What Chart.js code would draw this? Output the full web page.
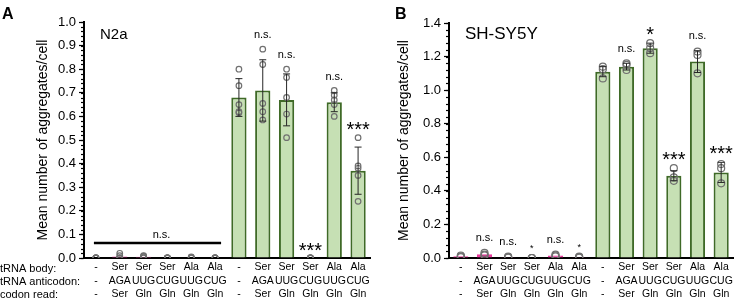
<!DOCTYPE html>
<html>
<head>
<meta charset="utf-8">
<script src="https://cdn.jsdelivr.net/npm/chart.js@4/dist/chart.umd.min.js"></script>
<style>
  body { margin: 0; background: #fff; }
  #wrap { position: relative; width: 748px; height: 302px; }
  #wrap canvas { position: absolute; top: 0; }
</style>
</head>
<body>
<div id="wrap">
  <canvas id="chartA" width="374" height="302" style="left:0"></canvas>
  <canvas id="chartB" width="374" height="302" style="left:374px"></canvas>
</div>
<script>
// Категории (таблица под осью)
const rowNames = ['tRNA body:', 'tRNA anticodon:', 'codon read:'];
const trnaBody = ['-', 'Ser', 'Ser', 'Ser', 'Ala', 'Ala', '-', 'Ser', 'Ser', 'Ser', 'Ala', 'Ala'];
const trnaAnticodon = ['-', 'AGA', 'UUG', 'CUG', 'UUG', 'CUG', '-', 'AGA', 'UUG', 'CUG', 'UUG', 'CUG'];
const codonRead = ['-', 'Ser', 'Gln', 'Gln', 'Gln', 'Gln', '-', 'Ser', 'Gln', 'Gln', 'Gln', 'Gln'];

// N2a
const n2aMeans = [0, 0.006, 0.005, 0, 0.002, 0, 0.68, 0.71, 0.67, 0, 0.66, 0.37];
const n2aSD = [0, 0, 0, 0, 0, 0, 0.08, 0.13, 0.11, 0, 0.04, 0.10];
const n2aPoints = [
    [0, 0, 0, 0, 0],
    [0.02, 0.01, 0, 0, 0],
    [0.01, 0.008, 0.005, 0.002, 0],
    [0, 0, 0, 0, 0],
    [0.005, 0.003, 0.002, 0, 0],
    [0, 0, 0, 0, 0],
    [0.80, 0.73, 0.65, 0.62, 0.615],
    [0.885, 0.82, 0.655, 0.62, 0.585],
    [0.80, 0.765, 0.68, 0.61, 0.51],
    [0, 0, 0, 0, 0],
    [0.71, 0.69, 0.67, 0.65, 0.60],
    [0.51, 0.39, 0.38, 0.35, 0.24]
];
const n2aSig = ['', '', '', '', '', '', '', 'n.s.', 'n.s.', '***', 'n.s.', '***'];
const n2aTicks = [0, 0.1, 0.2, 0.3, 0.4, 0.5, 0.6, 0.7, 0.8, 0.9, 1.0];

// SH-SY5Y
const shMeans = [0.01, 0.022, 0.005, 0, 0.015, 0.005, 1.11, 1.14, 1.25, 0.49, 1.17, 0.51];
const shSD = [0, 0, 0, 0, 0, 0, 0.03, 0.02, 0.03, 0.03, 0.065, 0.06];
const shPoints = [
    [0.015, 0.01, 0.005],
    [0.03, 0.02, 0.015],
    [0.008, 0.005, 0.002],
    [0, 0, 0],
    [0.02, 0.015, 0.01],
    [0.008, 0.005, 0.002],
    [1.14, 1.125, 1.07],
    [1.16, 1.15, 1.12],
    [1.28, 1.25, 1.22],
    [0.535, 0.48, 0.46],
    [1.23, 1.21, 1.10],
    [0.56, 0.535, 0.445]
];
const shSig = ['', 'n.s.', 'n.s.', '*', 'n.s.', '*', '', 'n.s.', '*', '***', 'n.s.', '***'];
const shTicks = [0, 0.2, 0.4, 0.6, 0.8, 1.0, 1.2, 1.4];

const FONT = "'Liberation Sans', Arial, Helvetica, sans-serif";
Chart.defaults.font.family = FONT;
Chart.defaults.color = '#000';

const labels = trnaBody.map((b, i) => [b, trnaAnticodon[i], codonRead[i]]);

function makeChart(id, cfg) {
    const { means, sd, points, sig, ticks, minorStep, letter, title, titleFont,
            pad, yWidth, radius, rowLabels, groupLine } = cfg;
    const yMax = ticks[ticks.length - 1];
    const nPts = points[0].length;

    const pointSets = [];
    for (let k = 0; k < nPts; k++) {
        pointSets.push({
            type: 'line',
            data: points.map(p => p[k]),
            showLine: false,
            pointRadius: radius,
            pointHoverRadius: radius,
            pointBorderWidth: 1.2,
            pointBorderColor: '#707070',
            pointBackgroundColor: 'rgba(0,0,0,0)',
            order: 0
        });
    }

    const extras = {
        id: 'extras' + id,
        afterDatasetsDraw(chart) {
            const { ctx, scales: { x, y }, chartArea } = chart;
            ctx.save();
            // error bars
            ctx.strokeStyle = '#262626';
            ctx.lineWidth = 1;
            means.forEach((m, i) => {
                if (!sd[i]) return;
                const cx = x.getPixelForValue(i);
                const y1 = y.getPixelForValue(m + sd[i]);
                const y2 = y.getPixelForValue(m - sd[i]);
                ctx.beginPath();
                ctx.moveTo(cx, y1); ctx.lineTo(cx, y2);
                ctx.moveTo(cx - 3.5, y1); ctx.lineTo(cx + 3.5, y1);
                ctx.moveTo(cx - 3.5, y2); ctx.lineTo(cx + 3.5, y2);
                ctx.stroke();
            });
            // significance labels
            ctx.fillStyle = '#000';
            ctx.textAlign = 'center';
            ctx.textBaseline = 'alphabetic';
            sig.forEach((txt, i) => {
                if (!txt) return;
                const top = y.getPixelForValue(Math.max(...points[i], means[i] + sd[i])) - radius;
                const cx = x.getPixelForValue(i);
                if (txt === '*' && means[i] < 0.05) {
                    ctx.font = '9px ' + FONT;
                    ctx.fillText(txt, cx, top - 3.5);
                } else if (txt.includes('*')) {
                    ctx.font = '20px ' + FONT;
                    ctx.fillText(txt, cx, top + 1.5);
                } else {
                    ctx.font = '11px ' + FONT;
                    ctx.fillText(txt, cx, top - 8);
                }
            });
            // n.s. line over the first group
            if (groupLine) {
                const gy = y.getPixelForValue(groupLine.value);
                const gx1 = x.getPixelForValue(groupLine.from) - 2;
                const gx2 = x.getPixelForValue(groupLine.to) + 6;
                ctx.strokeStyle = '#000';
                ctx.lineWidth = 2.5;
                ctx.beginPath();
                ctx.moveTo(gx1, gy); ctx.lineTo(gx2, gy);
                ctx.stroke();
                ctx.font = '11px ' + FONT;
                ctx.fillText(groupLine.text, (gx1 + gx2) / 2 + 4, gy - 5);
            }
            // minor ticks on y axis
            ctx.strokeStyle = '#000';
            ctx.lineWidth = 1.2;
            for (let v = 0; v <= yMax + 1e-9; v += minorStep) {
                const py = Math.round(y.getPixelForValue(v)) + 0.5;
                ctx.beginPath();
                ctx.moveTo(chartArea.left - 3, py);
                ctx.lineTo(chartArea.left, py);
                ctx.stroke();
            }
            ctx.restore();
        },
        afterDraw(chart) {
            const { ctx, chartArea, scales: { x } } = chart;
            ctx.save();
            ctx.fillStyle = '#000';
            ctx.textBaseline = 'alphabetic';
            ctx.textAlign = 'left';
            ctx.font = 'bold 16px ' + FONT;
            ctx.fillText(letter.text, letter.x, 18.5);
            ctx.font = titleFont + 'px ' + FONT;
            ctx.fillText(title, chartArea.left + 16, 38.5);
            if (rowLabels) {
                ctx.font = '11px ' + FONT;
                ctx.textBaseline = 'middle';
                rowLabels.forEach((r, k) => {
                    ctx.fillText(r, 0, x.top + 4 + 13.2 * (k + 0.5));
                });
            }
            ctx.restore();
        }
    };

    return new Chart(document.getElementById(id), {
        type: 'bar',
        data: {
            labels: labels,
            datasets: [{
                data: means,
                backgroundColor: means.map((m, i) => i < 6 ? '#e8379b' : '#c6e0b4'),
                borderColor: means.map((m, i) => i < 6 ? '#e8379b' : '#3f6a27'),
                borderWidth: 2,
                borderSkipped: 'bottom',
                categoryPercentage: 1,
                barPercentage: 0.64,
                order: 1
            }].concat(pointSets)
        },
        options: {
            responsive: false,
            animation: false,
            layout: { padding: pad },
            plugins: { legend: { display: false }, tooltip: { enabled: false } },
            scales: {
                x: {
                    grid: { display: true, drawOnChartArea: false, drawTicks: false },
                    border: { display: true, color: '#000', width: 2 },
                    ticks: {
                        autoSkip: false, maxRotation: 0, minRotation: 0, padding: 3,
                        font: { size: 10.5, lineHeight: 1.25 }, color: '#000'
                    },
                    afterFit(scale) { scale.height = 44; }
                },
                y: {
                    min: 0,
                    max: yMax,
                    afterBuildTicks(scale) { scale.ticks = ticks.map(v => ({ value: v })); },
                    grid: { display: true, drawOnChartArea: false, drawTicks: true, tickLength: 5, tickColor: '#000', tickWidth: 1.2 },
                    border: { display: true, color: '#000', width: 2 },
                    ticks: {
                        padding: 3, font: { size: 13 }, color: '#000',
                        callback: v => v.toFixed(1)
                    },
                    title: {
                        display: true,
                        text: 'Mean number of aggregates/cell',
                        font: { size: 14 },
                        padding: 0,
                        color: '#000'
                    },
                    afterFit(scale) { scale.width = yWidth; }
                }
            }
        },
        plugins: [extras]
    });
}

makeChart('chartA', {
    means: n2aMeans, sd: n2aSD, points: n2aPoints, sig: n2aSig, ticks: n2aTicks,
    minorStep: 0.02, letter: { text: 'A', x: 2 }, title: 'N2a', titleFont: 15,
    pad: { left: 35, top: 22, right: 4, bottom: 0 }, yWidth: 49, radius: 2.8,
    rowLabels: rowNames,
    groupLine: { from: 0, to: 5, value: 0.064, text: 'n.s.' }
});

makeChart('chartB', {
    means: shMeans, sd: shSD, points: shPoints, sig: shSig, ticks: shTicks,
    minorStep: 0.04, letter: { text: 'B', x: 21 }, title: 'SH-SY5Y', titleFont: 17,
    pad: { left: 22, top: 23, right: 15, bottom: 0 }, yWidth: 53, radius: 3.5,
    rowLabels: null, groupLine: null
});
</script>
</body>
</html>
